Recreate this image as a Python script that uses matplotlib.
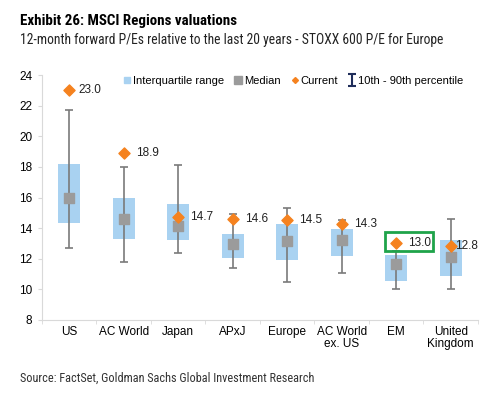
import numpy as np
import matplotlib.pyplot as plt
from matplotlib.lines import Line2D
from matplotlib.patches import Rectangle
from matplotlib.path import Path

# values
regions = ["US", "AC World", "Japan", "APxJ", "Europe", "AC World\nex. US", "EM", "United\nKingdom"]
p10 = [12.7, 11.8, 12.35, 11.4, 10.45, 11.1, 10.0, 10.0]
p90 = [21.7, 18.0, 18.15, 14.9, 15.3, 14.5, 12.5, 14.6]
q25 = [14.35, 13.3, 13.2, 12.05, 11.9, 12.15, 10.55, 10.9]
q75 = [18.2, 15.95, 15.55, 13.6, 14.3, 13.95, 12.25, 13.25]
median = [16.0, 14.6, 14.15, 12.95, 13.15, 13.25, 11.65, 12.1]
current = [23.0, 18.9, 14.7, 14.6, 14.5, 14.3, 13.0, 12.8]

BLUE = "#a9d2f1"
GREY = "#9b9b9b"
ORANGE = "#f5821f"
WHISK = "#7a7a7a"
GREEN = "#1fa34a"

plt.rcParams["font.family"] = ["Liberation Sans", "DejaVu Sans"]

fig = plt.figure(figsize=(4.86, 3.97), dpi=100)
ax = fig.add_axes([0.0864, 0.194, 0.897, 0.617])

x = np.arange(len(regions))
lo = np.array(q25)
hi = np.array(q75)
ax.bar(x, hi - lo, bottom=lo, width=0.4, color=BLUE, zorder=1)
ax.errorbar(x, median, yerr=[np.array(median) - p10, np.array(p90) - median],
            fmt="none", ecolor=WHISK, elinewidth=1.2, capsize=3, capthick=1.2, zorder=2)
ax.scatter(x, median, marker="s", s=45, color=GREY, zorder=3)
ax.scatter(x, current, marker="D", s=32, color=ORANGE, zorder=4)

for i, v in enumerate(current):
    off = 0.22
    if i == 0:
        off = 0.16
    if i == 7:
        off = 0.08
    ax.text(x[i] + off, v, "%.1f" % v, fontsize=8.5, va="center", ha="left", color="#222222", zorder=5)

# highlight the EM current value
ax.add_patch(Rectangle((5.79, 12.5), 0.88, 1.22, fill=False, edgecolor=GREEN, lw=2, zorder=6))

ax.set_xlim(-0.5, len(regions) - 0.5)
ax.set_ylim(8, 24)
ax.set_yticks(range(8, 25, 2))
ax.set_xticks(x)
ax.set_xticklabels(regions, fontsize=8.5, linespacing=1.05)
ax.set_xticks(np.arange(-0.5, len(regions)), minor=True)
ax.tick_params(axis="x", which="major", length=0, pad=4)
ax.tick_params(axis="x", which="minor", length=3, color="#d9d9d9")
ax.tick_params(axis="y", labelsize=8.5, length=3, color="#d9d9d9", pad=4)
for s in ["top", "right"]:
    ax.spines[s].set_visible(False)
for s in ["left", "bottom"]:
    ax.spines[s].set_color("#d9d9d9")

# I-beam marker for the percentile whisker in the legend
ibeam = Path([(-0.6, 1), (0.6, 1), (0, 1), (0, -1), (-0.6, -1), (0.6, -1)],
             [Path.MOVETO, Path.LINETO, Path.MOVETO, Path.LINETO, Path.MOVETO, Path.LINETO])
handles = [
    Line2D([], [], marker="s", ls="none", color=BLUE, markersize=5),
    Line2D([], [], marker="s", ls="none", color=GREY, markersize=6),
    Line2D([], [], marker="D", ls="none", color=ORANGE, markersize=3),
    Line2D([], [], marker=ibeam, ls="none", color="#1f2d5a", markersize=9, markeredgewidth=1.5),
]
labels = ["Interquartile range", "Median", "Current", "10th - 90th percentile"]
ax.legend(handles, labels, loc="upper left", bbox_to_anchor=(0.175, 1.02), ncol=4, frameon=False,
          fontsize=8.0, handlelength=0.6, handletextpad=0.2, columnspacing=1.0, borderpad=0)

fig.text(0.041, 0.948, "Exhibit 26: MSCI Regions valuations", fontsize=10.8, fontweight="bold",
         family=["Roboto Condensed", "Roboto", "DejaVu Sans"], va="center")
fig.text(0.041, 0.898, "12-month forward P/Es relative to the last 20 years - STOXX 600 P/E for Europe",
         fontsize=9.8, family=["Roboto Condensed", "Roboto", "DejaVu Sans"], va="center", color="#222222")
fig.text(0.041, 0.048, "Source: FactSet, Goldman Sachs Global Investment Research", fontsize=8.8,
         family=["Roboto Condensed", "Roboto", "DejaVu Sans"], va="center", color="#333333")

fig.savefig("out.png", dpi=100)
